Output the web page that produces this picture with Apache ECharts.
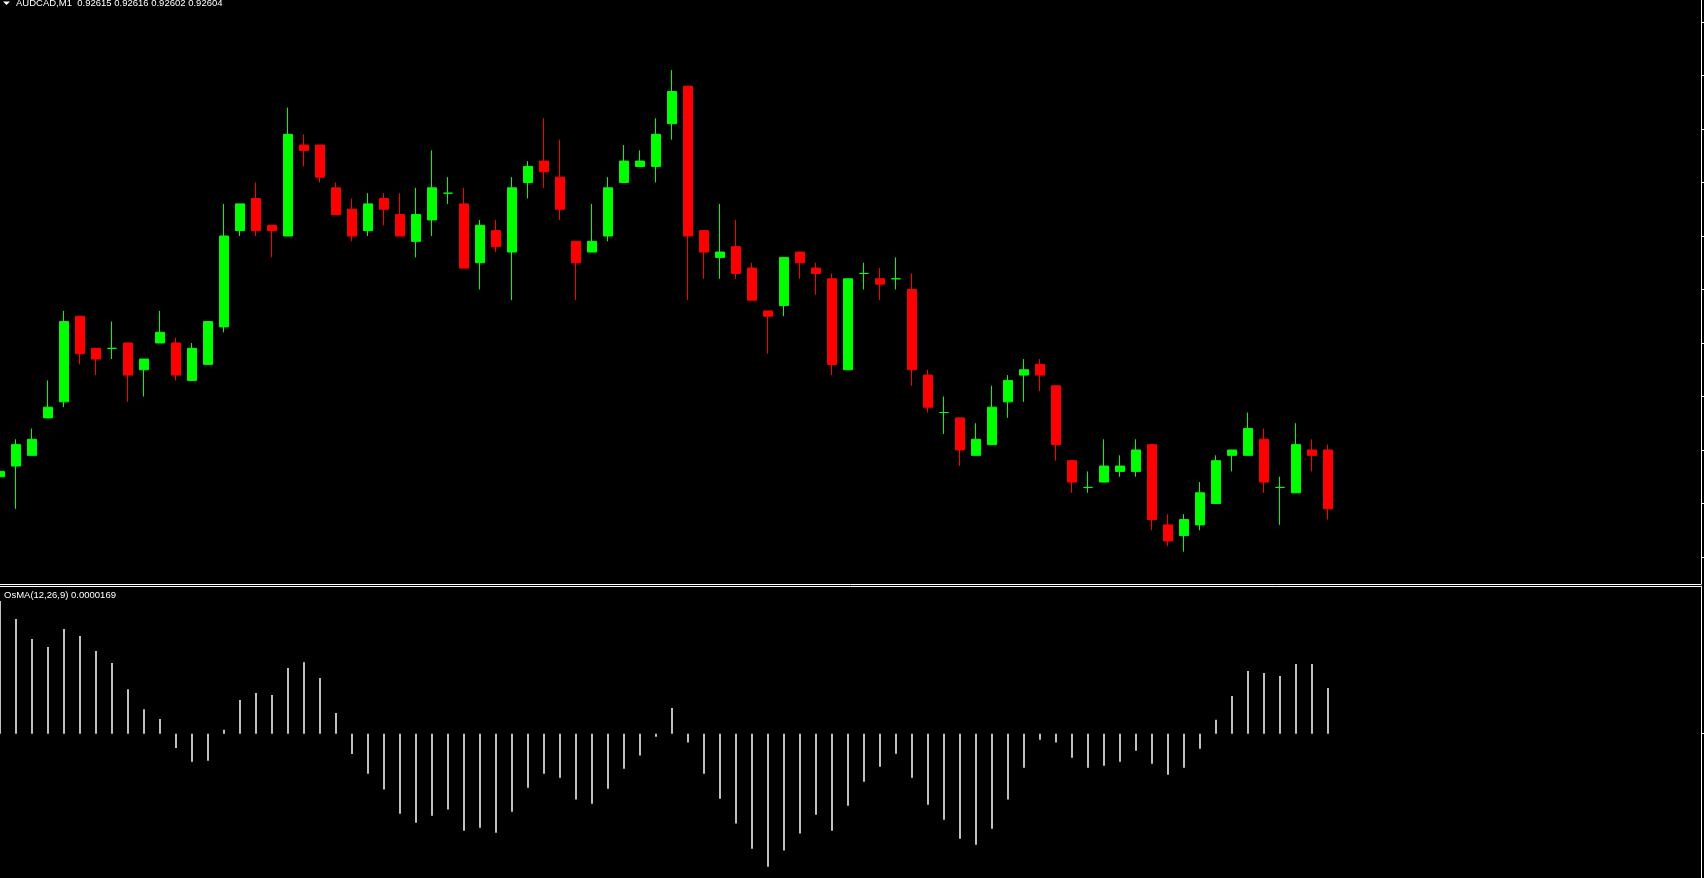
<!DOCTYPE html>
<html>
<head>
<meta charset="utf-8">
<title>AUDCAD,M1</title>
<script src="https://cdn.jsdelivr.net/npm/echarts@6/dist/echarts.min.js"></script>
<style>
  html, body { margin: 0; padding: 0; background: #000; }
  #chart { width: 1704px; height: 878px; }
</style>
</head>
<body>
<div id="chart"></div>
<script>
const symbol = 'AUDCAD,M1';
const osmaName = 'OsMA(12,26,9)';

const open = [
  0.92610, 0.92612, 0.92614, 0.92621, 0.92624, 0.92640, 0.92634, 0.92634, 0.92635, 0.92630,
  0.92635, 0.92635, 0.92628, 0.92631, 0.92638, 0.92656, 0.92662, 0.92657, 0.92655, 0.92672,
  0.92672, 0.92664, 0.92660, 0.92656, 0.92662, 0.92659, 0.92654, 0.92658, 0.92663, 0.92661,
  0.92650, 0.92656, 0.92652, 0.92665, 0.92669, 0.92666, 0.92654, 0.92652, 0.92655, 0.92665,
  0.92668, 0.92668, 0.92676, 0.92683, 0.92656, 0.92651, 0.92653, 0.92649, 0.92641, 0.92642,
  0.92652, 0.92649, 0.92647, 0.92630, 0.92648, 0.92647, 0.92647, 0.92645, 0.92629, 0.92622,
  0.92621, 0.92614, 0.92616, 0.92624, 0.92629, 0.92631, 0.92627, 0.92613, 0.92608, 0.92609,
  0.92611, 0.92611, 0.92616, 0.92601, 0.92599, 0.92601, 0.92605, 0.92614, 0.92614, 0.92617,
  0.92608, 0.92607, 0.92615, 0.92615
];
const high = [
  0.92615, 0.92617, 0.92619, 0.92628, 0.92641, 0.92640, 0.92634, 0.92639, 0.92635, 0.92632,
  0.92641, 0.92636, 0.92635, 0.92639, 0.92661, 0.92661, 0.92665, 0.92657, 0.92679, 0.92674,
  0.92672, 0.92665, 0.92662, 0.92663, 0.92663, 0.92663, 0.92664, 0.92671, 0.92666, 0.92664,
  0.92658, 0.92658, 0.92666, 0.92669, 0.92677, 0.92673, 0.92654, 0.92661, 0.92666, 0.92672,
  0.92671, 0.92677, 0.92686, 0.92683, 0.92656, 0.92661, 0.92658, 0.92650, 0.92641, 0.92651,
  0.92652, 0.92650, 0.92648, 0.92647, 0.92650, 0.92649, 0.92651, 0.92648, 0.92630, 0.92625,
  0.92621, 0.92620, 0.92627, 0.92629, 0.92632, 0.92632, 0.92627, 0.92613, 0.92611, 0.92617,
  0.92614, 0.92617, 0.92616, 0.92603, 0.92603, 0.92609, 0.92614, 0.92615, 0.92622, 0.92619,
  0.92610, 0.92620, 0.92617, 0.92616
];
const low = [
  0.92608, 0.92604, 0.92614, 0.92621, 0.92623, 0.92631, 0.92629, 0.92632, 0.92624, 0.92625,
  0.92635, 0.92628, 0.92628, 0.92631, 0.92637, 0.92655, 0.92655, 0.92651, 0.92655, 0.92668,
  0.92665, 0.92659, 0.92654, 0.92655, 0.92657, 0.92655, 0.92651, 0.92655, 0.92661, 0.92649,
  0.92645, 0.92652, 0.92643, 0.92662, 0.92664, 0.92658, 0.92643, 0.92652, 0.92654, 0.92665,
  0.92668, 0.92665, 0.92673, 0.92643, 0.92647, 0.92647, 0.92647, 0.92643, 0.92633, 0.92640,
  0.92647, 0.92644, 0.92629, 0.92630, 0.92645, 0.92643, 0.92645, 0.92627, 0.92622, 0.92618,
  0.92612, 0.92614, 0.92616, 0.92621, 0.92624, 0.92626, 0.92613, 0.92607, 0.92607, 0.92609,
  0.92610, 0.92610, 0.92600, 0.92597, 0.92596, 0.92600, 0.92605, 0.92611, 0.92614, 0.92607,
  0.92601, 0.92607, 0.92611, 0.92602
];
const close = [
  0.92611, 0.92616, 0.92617, 0.92623, 0.92639, 0.92633, 0.92632, 0.92634, 0.92629, 0.92632,
  0.92637, 0.92629, 0.92634, 0.92639, 0.92655, 0.92661, 0.92656, 0.92656, 0.92674, 0.92671,
  0.92666, 0.92659, 0.92655, 0.92661, 0.92660, 0.92655, 0.92659, 0.92664, 0.92663, 0.92649,
  0.92657, 0.92653, 0.92664, 0.92668, 0.92667, 0.92660, 0.92650, 0.92654, 0.92664, 0.92669,
  0.92669, 0.92674, 0.92682, 0.92655, 0.92652, 0.92652, 0.92648, 0.92643, 0.92640, 0.92651,
  0.92650, 0.92648, 0.92631, 0.92647, 0.92648, 0.92646, 0.92647, 0.92630, 0.92623, 0.92622,
  0.92615, 0.92617, 0.92623, 0.92628, 0.92630, 0.92629, 0.92616, 0.92609, 0.92608, 0.92612,
  0.92612, 0.92615, 0.92602, 0.92598, 0.92602, 0.92607, 0.92613, 0.92615, 0.92619, 0.92609,
  0.92608, 0.92616, 0.92614, 0.92604
];
const osma = [
  0.0000491, 0.0000425, 0.0000351, 0.0000321, 0.0000388, 0.0000362, 0.0000306, 0.0000262, 0.0000165, 0.0000091,
  0.0000054, -0.0000053, -0.0000104, -0.0000100, 0.0000015, 0.0000125, 0.0000151, 0.0000143, 0.0000243, 0.0000265,
  0.0000206, 0.0000077, -0.0000075, -0.0000148, -0.0000207, -0.0000296, -0.0000330, -0.0000304, -0.0000281, -0.0000359,
  -0.0000348, -0.0000367, -0.0000289, -0.0000200, -0.0000148, -0.0000163, -0.0000244, -0.0000259, -0.0000204, -0.0000130,
  -0.0000081, -0.0000011, 0.0000095, -0.0000033, -0.0000148, -0.0000241, -0.0000333, -0.0000426, -0.0000493, -0.0000433,
  -0.0000370, -0.0000300, -0.0000359, -0.0000267, -0.0000178, -0.0000122, -0.0000074, -0.0000163, -0.0000263, -0.0000319,
  -0.0000389, -0.0000411, -0.0000352, -0.0000244, -0.0000126, -0.0000022, -0.0000033, -0.0000089, -0.0000126, -0.0000119,
  -0.0000104, -0.0000063, -0.0000111, -0.0000152, -0.0000126, -0.0000056, 0.0000052, 0.0000140, 0.0000232, 0.0000225,
  0.0000214, 0.0000258, 0.0000258, 0.0000169
];
const priceTicks = [0.92695, 0.92685, 0.92675, 0.92665, 0.92655, 0.92645, 0.92635, 0.92625, 0.92615, 0.92605, 0.92595];
const osmaTicks = [0];

const bull = '#00ff00';
const bear = '#ff0000';

const candleData = open.map(function (o, i) {
  const item = { value: [i, o, close[i], low[i], high[i]] };
  if (o === close[i]) {
    // doji: MT4 draws these in the bull colour
    item.itemStyle = { color: bull, color0: bull, borderColor: bull, borderColor0: bull, borderColorDoji: bull };
  }
  return item;
});
const osmaData = osma.map(function (v, i) { return [i, v]; });

const last = open.length - 1;
const header = symbol + '  ' + [open[last], high[last], low[last], close[last]].map(function (v) {
  return v.toFixed(5);
}).join(' ');
const osmaLabel = osmaName + ' ' + osma[last].toFixed(7);

const chart = echarts.init(document.getElementById('chart'));
const xMax = 1701 / 16;
const axisColor = '#ffffff';
const textFont = '9.5px "Liberation Sans", Arial, sans-serif';

chart.setOption({
  backgroundColor: '#000000',
  animation: false,
  grid: [
    { left: 0, right: 3, top: 0, bottom: 294 },
    { left: 0, right: 3, top: 586, bottom: 0 }
  ],
  xAxis: [
    {
      type: 'value', gridIndex: 0, min: 0, max: xMax,
      axisLine: { show: true, onZero: false, lineStyle: { color: axisColor } },
      axisTick: { show: false }, axisLabel: { show: false }, splitLine: { show: false }
    },
    {
      type: 'value', gridIndex: 1, position: 'top', min: 0, max: xMax,
      axisLine: { show: true, onZero: false, lineStyle: { color: axisColor } },
      axisTick: { show: false }, axisLabel: { show: false }, splitLine: { show: false }
    }
  ],
  yAxis: [
    {
      type: 'value', gridIndex: 0, position: 'right', min: 0.9258995, max: 0.9269911,
      axisLine: { show: true, onZero: false, lineStyle: { color: axisColor } },
      axisTick: { show: true, customValues: priceTicks, length: 3, lineStyle: { color: axisColor } },
      axisLabel: { show: false }, splitLine: { show: false }
    },
    {
      type: 'value', gridIndex: 1, position: 'right', min: -0.00005344, max: 0.0000547,
      axisLine: { show: true, onZero: false, lineStyle: { color: axisColor } },
      axisTick: { show: true, customValues: osmaTicks, length: 3, lineStyle: { color: axisColor } },
      axisLabel: { show: false }, splitLine: { show: false }
    }
  ],
  series: [
    {
      type: 'candlestick',
      xAxisIndex: 0,
      yAxisIndex: 0,
      barWidth: 10,
      itemStyle: {
        color: bull,
        color0: bear,
        borderColor: bull,
        borderColor0: bear,
        borderWidth: 1
      },
      data: candleData
    },
    {
      type: 'bar',
      name: osmaName,
      xAxisIndex: 1,
      yAxisIndex: 1,
      barWidth: 2,
      itemStyle: { color: '#c0c0c0' },
      data: osmaData
    }
  ],
  graphic: [
    {
      type: 'polygon',
      shape: { points: [[3, 1.5], [10, 1.5], [6.5, 5]] },
      style: { fill: '#ffffff' }
    },
    {
      type: 'text', x: 16, y: -2,
      style: { text: header, fill: '#ffffff', font: textFont, verticalAlign: 'top' }
    },
    {
      type: 'text', x: 4, y: 590,
      style: { text: osmaLabel, fill: '#ffffff', font: textFont, verticalAlign: 'top' }
    }
  ]
});
</script>
</body>
</html>
